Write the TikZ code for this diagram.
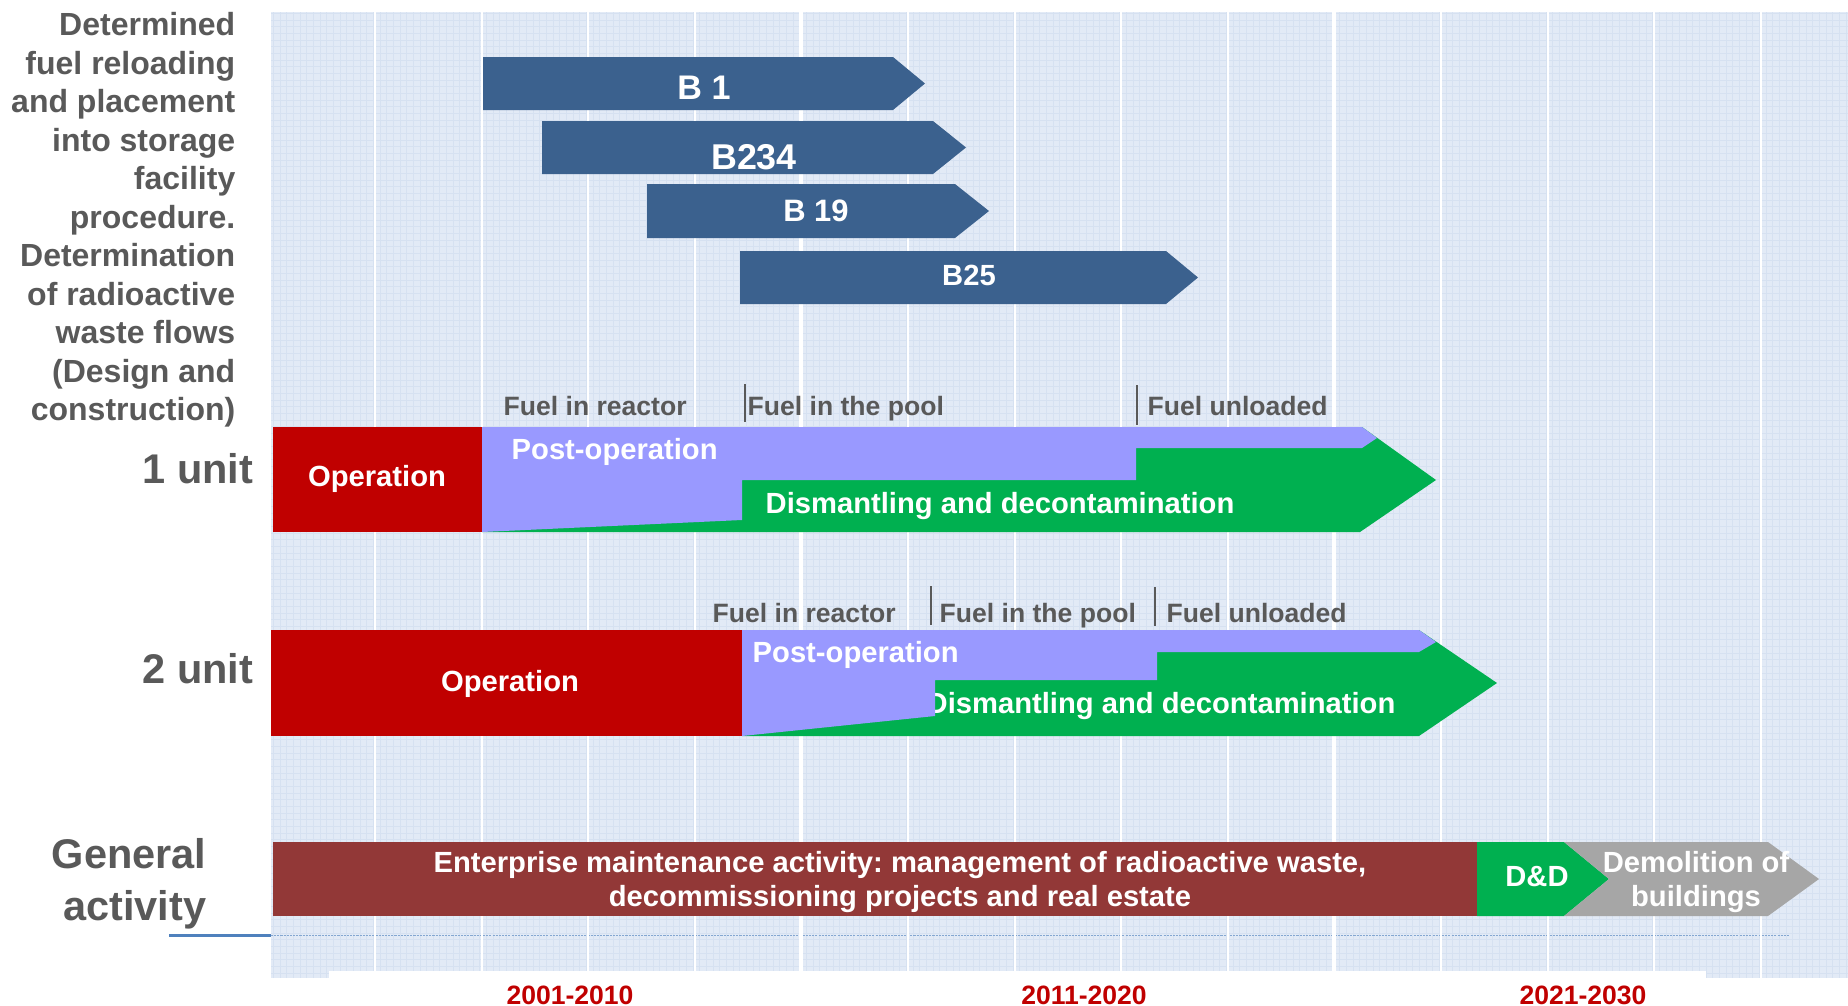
\documentclass[tikz,border=0pt]{standalone}
\usepackage{fontspec}
\setmainfont{Liberation Sans}
\usetikzlibrary{positioning}
\frenchspacing

\definecolor{gridbg}{RGB}{226,234,246}
\definecolor{gridfine}{RGB}{214,225,241}
\definecolor{fuelblue}{RGB}{59,97,142}
\definecolor{oprred}{RGB}{192,0,0}
\definecolor{postpurple}{RGB}{153,153,255}
\definecolor{dismgreen}{RGB}{0,176,80}
\definecolor{maroonbar}{RGB}{146,56,55}
\definecolor{demgray}{RGB}{166,166,166}
\definecolor{labelgray}{RGB}{89,89,89}
\definecolor{axisblue}{RGB}{79,129,189}

\tikzstyle{finegrid} = [draw=gridfine, line width=0.2pt, step=0.0666cm]
\tikzstyle{majorline} = [draw=white, line width=0.55pt]
\tikzstyle{axisline} = [draw=axisblue, line width=0.75pt]
\tikzstyle{axisdots} = [draw=axisblue!70, line width=0.35pt,
  dash pattern=on 0.6pt off 0.3pt]
\tikzstyle{tickline} = [draw=labelgray, line width=0.5pt]
\tikzstyle{notetext} = [text=labelgray, inner sep=0pt,
  font=\bfseries\fontsize{9.1}{10.95}\selectfont]
\tikzstyle{rowlabel} = [text=labelgray, inner sep=0pt,
  font=\bfseries\fontsize{11.8}{14.8}\selectfont]
\tikzstyle{fuellabel} = [text=labelgray, inner sep=0pt, anchor=base west,
  font=\bfseries\fontsize{7.55}{9}\selectfont]
\tikzstyle{phase} = [text=white, inner sep=0pt,
  font=\bfseries\fontsize{8.3}{9.7}\selectfont]
\tikzstyle{blockname} = [text=white, inner sep=0pt, anchor=base]
\tikzstyle{decade} = [text=oprred, inner sep=0pt, anchor=base,
  font=\bfseries\fontsize{7.55}{9}\selectfont]

\begin{document}
\begin{tikzpicture}[x=0.01cm, y=-0.01cm]
\useasboundingbox (0,0) rectangle (1848,1006);

%% background
\fill[gridbg] (271,12) rectangle (1848,978);
\draw[finegrid] (271,978) grid (1848,12);
\draw[axisdots] (271,935.5) -- (1789,935.5);
\foreach \k in {1,...,14}
  \draw[majorline] ({268.4+106.6*\k},12) -- ({268.4+106.6*\k},978);
\foreach \k in {5,10}
  \draw[majorline, line width=1.1pt] ({268.4+106.6*\k},12) -- ({268.4+106.6*\k},978);
\fill[white] (329,971) rectangle (1706,1006);
\draw[axisline] (169,935.5) -- (271,935.5);

%% fuel blocks
\fill[fuelblue] (483,57) -- (893,57) -- (925,83.5) -- (893,110) -- (483,110) -- cycle;
\fill[fuelblue] (542,121) -- (933,121) -- (966,147.5) -- (933,174) -- (542,174) -- cycle;
\fill[fuelblue] (647,184) -- (955,184) -- (989,211) -- (955,238) -- (647,238) -- cycle;
\fill[fuelblue] (740,251) -- (1166,251) -- (1198,277.5) -- (1166,304) -- (740,304) -- cycle;

%% unit 1
\fill[dismgreen] (482,427) -- (1362,427) -- (1436,480) -- (1360,532) -- (482,532) -- cycle;
\node (dismOne) [phase, anchor=base west] at (765,513) {Dismantling and decontamination};
\fill[postpurple] (482,427) -- (1362,427) -- (1377,438) -- (1362,448) -- (1136,448)
  -- (1136,480) -- (742,480) -- (742,520) -- (482,532) -- cycle;
\fill[oprred] (273,427) rectangle (482,532);
\draw[tickline] (745,384) -- (745,422);
\draw[tickline] (1137,385) -- (1137,425);

%% unit 2
\fill[dismgreen] (742,630) -- (1419,630) -- (1497,683) -- (1419,736) -- (742,736) -- cycle;
\node (dismTwo) [phase, anchor=base west] at (926,713) {Dismantling and decontamination};
\fill[postpurple] (742,630) -- (1419,630) -- (1436,642) -- (1419,652) -- (1157,652)
  -- (1157,680) -- (935,680) -- (935,716) -- (742,736) -- cycle;
\fill[oprred] (271,630) rectangle (742,736);
\draw[tickline] (931,586) -- (931,625);
\draw[tickline] (1155,587) -- (1155,626);

%% general activity
\fill[maroonbar] (273,842) rectangle (1477,916);
\fill[dismgreen] (1477,842) -- (1564,842) -- (1609,879) -- (1564,916) -- (1477,916) -- cycle;
\fill[demgray] (1564,842) -- (1768,842) -- (1819,879) -- (1768,916) -- (1564,916)
  -- (1609,879) -- cycle;

%% nodes
\node (designNote) [notetext, anchor=north east, align=right] at (236,12)
  {Determined\\fuel reloading\\and placement\\into storage\\facility\\procedure.\\Determination\\of radioactive\\waste flows\\(Design and\\construction)};
\node (unitOne) [rowlabel, anchor=base east] at (254,483) {1 unit};
\node (unitTwo) [rowlabel, anchor=base east] at (254,683) {2 unit};
\node (general) [rowlabel, anchor=north east, align=right] at (207,838) {General\\activity};

\node (bOne) [blockname, font=\bfseries\fontsize{9.7}{11}\selectfont] at (704,99) {B 1};
\node (bTwo) [blockname, font=\bfseries\fontsize{10.2}{12}\selectfont] at (754,169) {B234};
\node (bNineteen) [blockname, font=\bfseries\fontsize{8.8}{10}\selectfont] at (816,221) {B 19};
\node (bTwentyFive) [blockname, font=\bfseries\fontsize{8.3}{10}\selectfont] at (969,285) {B25};

\node (reactorOne) [fuellabel] at (503,415) {Fuel in reactor};
\node (poolOne) [fuellabel] at (747,415) {Fuel in the pool};
\node (unloadedOne) [fuellabel] at (1147,415) {Fuel unloaded};
\node (opOne) [phase, anchor=base] at (377,486) {Operation};
\node (postOne) [phase, anchor=base west] at (511,459) {Post-operation};

\node (reactorTwo) [fuellabel] at (712,622) {Fuel in reactor};
\node (poolTwo) [fuellabel] at (939,622) {Fuel in the pool};
\node (unloadedTwo) [fuellabel] at (1166,622) {Fuel unloaded};
\node (opTwo) [phase, anchor=base] at (510,691) {Operation};
\node (postTwo) [phase, anchor=base west] at (752,662) {Post-operation};

\node (maintenance) [phase, anchor=north, align=center] at (900,851)
  {Enterprise maintenance activity: management of radioactive waste,\\decommissioning projects and real estate};
\node (dnd) [phase, anchor=base] at (1537,886) {D\&D};
\node (demolition) [phase, anchor=north, align=center] at (1696,851) {Demolition of\\buildings};

\node (decadeOne) [decade] at (570,1004) {2001-2010};
\node (decadeTwo) [decade] at (1084,1004) {2011-2020};
\node (decadeThree) [decade] at (1583,1004) {2021-2030};

\end{tikzpicture}
\end{document}
